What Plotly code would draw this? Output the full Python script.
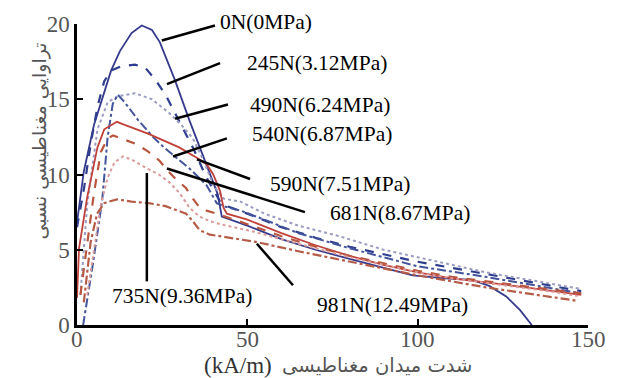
import plotly.graph_objects as go

# Relative magnetic permeability vs. magnetic field strength for eight loads
field_0N = [0, 2, 5, 7.6, 10, 12.6, 16, 19, 22, 24.3, 28.7, 33, 37.5, 41.3, 42.5, 50, 60, 70, 80, 90, 98.5, 108, 116, 121, 126, 130, 133.5]
perm_0N = [6.8, 10.2, 13.3, 15.2, 16.9, 18.2, 19.4, 19.9, 19.6, 18.8, 16.3, 13.6, 10.9, 8.7, 7.2, 6.6, 5.7, 5.0, 4.4, 3.8, 3.3, 3.1, 3.0, 2.6, 1.9, 1.0, 0.0]

field_245N = [0, 2, 4, 6, 8, 10, 13, 17, 20, 23, 26, 30, 34, 38, 42, 44, 50, 60, 70, 80, 90, 100, 110, 120, 130, 140, 148]
perm_245N = [6.5, 9.0, 12.0, 14.5, 16.2, 16.9, 17.2, 17.3, 17.1, 16.3, 15.3, 13.6, 11.8, 9.8, 8.2, 7.9, 7.4, 6.5, 5.8, 5.2, 4.7, 4.2, 3.8, 3.4, 3.0, 2.6, 2.25]

field_490N = [1, 3, 6, 9, 12, 17, 22, 27, 31, 34, 37, 40, 43, 48, 55, 65, 77, 90, 100, 110, 120, 130, 140, 148]
perm_490N = [2.0, 8.0, 13.0, 14.8, 15.2, 15.4, 15.0, 14.1, 13.2, 12.4, 11.0, 9.3, 8.4, 8.2, 7.4, 6.6, 5.9, 5.0, 4.5, 4.0, 3.5, 3.1, 2.7, 2.4]

field_540N = [1.8, 4.7, 7.4, 9, 10.5, 12, 14, 18, 22.3, 25.5, 28.7, 33, 38, 41, 43, 48, 55, 65, 80, 100, 120, 135, 148]
perm_540N = [0.0, 4.1, 8.3, 12.5, 14.7, 15.3, 14.8, 13.6, 12.5, 11.8, 11.2, 10.4, 9.3, 8.1, 7.9, 7.6, 7.0, 6.1, 5.1, 3.9, 3.2, 2.6, 2.1]

field_590N = [0, 0.6, 3, 6, 8, 10, 11.7, 14, 17.6, 21, 25, 30, 36, 38, 40, 42, 43, 44, 50, 60, 70, 80, 90, 100, 110, 118, 125, 135, 148]
perm_590N = [1.8, 5.1, 8.5, 11.8, 13.0, 13.3, 13.5, 13.3, 13.0, 12.7, 12.3, 11.8, 11.0, 10.7, 10.0, 8.9, 7.8, 7.4, 7.0, 6.1, 5.3, 4.6, 4.0, 3.5, 3.1, 2.9, 2.7, 2.4, 2.0]

field_681N = [1, 3, 5, 7, 9, 10.6, 14, 17.6, 21, 24.3, 26.4, 29, 32, 34, 36, 38, 41, 45, 50, 60, 70, 80, 90, 100, 110, 120, 130, 140, 148]
perm_681N = [2.0, 5.5, 8.8, 11.5, 12.4, 12.6, 12.3, 12.0, 11.5, 10.9, 10.3, 9.7, 9.1, 8.4, 7.8, 7.6, 7.4, 7.1, 6.7, 5.9, 5.2, 4.6, 4.1, 3.6, 3.2, 2.9, 2.6, 2.3, 2.1]

field_735N = [3, 5, 7, 9, 11, 13.5, 16, 20.5, 24, 27, 30, 33, 36, 39, 42, 46, 52, 60, 70, 80, 90, 100, 110, 120, 130, 140, 148]
perm_735N = [2.0, 5.0, 8.0, 9.8, 10.8, 11.2, 11.0, 10.4, 10.0, 9.5, 8.8, 7.8, 7.2, 6.9, 6.7, 6.5, 6.2, 5.7, 5.1, 4.5, 4.0, 3.5, 3.1, 2.8, 2.5, 2.2, 1.9]

field_981N = [2, 4, 5.9, 8, 11.7, 16, 21, 26, 32, 34, 36, 39, 42, 47, 53, 65, 80, 100, 120, 135, 147]
perm_981N = [1.5, 5.5, 7.4, 8.1, 8.35, 8.2, 8.1, 7.9, 7.4, 6.9, 6.3, 6.0, 5.9, 5.7, 5.5, 4.9, 4.2, 3.3, 2.5, 2.0, 1.6]

load_labels = ["0N(0MPa)", "245N(3.12MPa)", "490N(6.24MPa)", "540N(6.87MPa)",
               "590N(7.51MPa)", "681N(8.67MPa)", "735N(9.36MPa)", "981N(12.49MPa)"]

x_ticks = [0, 50, 100, 150]
y_ticks = [0, 5, 10, 15, 20]
x_title_unit = "(kA/m)"
x_title_fa = "شدت میدان مغناطیسی"
y_title_fa = "تراوایی مغناطیسی نسبی"

SERIF = "Times New Roman, Liberation Serif, serif"
ARABIC = "DejaVu Sans, Noto Sans, sans-serif"
TICK_GRAY = "#555555"

series = [
    (field_0N, perm_0N, "#363a8c", "solid", 1.8),
    (field_245N, perm_245N, "#2f3d8e", "dash", 2.2),
    (field_490N, perm_490N, "#9a9cc0", "dot", 2.0),
    (field_540N, perm_540N, "#43549a", "dashdot", 2.0),
    (field_590N, perm_590N, "#c0413a", "solid", 1.8),
    (field_681N, perm_681N, "#b8563f", "dash", 2.2),
    (field_735N, perm_735N, "#d99a9a", "dot", 2.0),
    (field_981N, perm_981N, "#b55c48", "dashdot", 2.2),
]

fig = go.Figure()
for (xs, ys, color, dash, width), name in zip(series, load_labels):
    fig.add_trace(go.Scatter(x=xs, y=ys, mode="lines", name=name,
                             line=dict(color=color, dash=dash, width=width)))

# Callout labels: text anchor (x, y, pixel shift) and leader line (curve -> label)
callouts = [
    (load_labels[0], 41.4, 20.0, 2, (24.9, 18.9), (40.5, 19.9)),
    (load_labels[1], 49.3, 17.4, 0, (26.4, 16.0), (42.0, 17.4)),
    (load_labels[2], 50.2, 14.65, 0, (28.8, 13.7), (44.3, 14.65)),
    (load_labels[3], 50.8, 12.7, 0, (28.2, 11.2), (44.0, 12.4)),
    (load_labels[4], 56.1, 9.4, 0, (35.2, 11.0), (50.8, 9.7)),
    (load_labels[5], 73.7, 7.45, 0, (26.4, 10.4), (66.9, 7.5)),
    (load_labels[6], 9.7, 1.9, 0, (20.5, 10.1), (20.5, 2.9)),
    (load_labels[7], 69.9, 1.35, 0, (52.8, 5.4), (63.4, 2.64)),
]
for text, tx, ty, shift, (x0, y0), (x1, y1) in callouts:
    fig.add_shape(type="line", x0=x0, y0=y0, x1=x1, y1=y1, xref="x", yref="y",
                  line=dict(color="black", width=2.5))
    fig.add_annotation(x=tx, y=ty, xref="x", yref="y", yshift=shift, text=text,
                       showarrow=False, xanchor="left", yanchor="middle",
                       font=dict(family=SERIF, size=21.5, color="black"))

# x tick labels sit tight under the axis line
for v in x_ticks:
    fig.add_annotation(x=v, y=0, xref="x", yref="paper", yshift=-14, text=str(v),
                       showarrow=False, xanchor="center", yanchor="middle",
                       font=dict(family=SERIF, size=23, color=TICK_GRAY))

# Axis titles
fig.add_annotation(x=-0.074, y=0.61, xref="paper", yref="paper", text=y_title_fa,
                   showarrow=False, textangle=-90, xanchor="center", yanchor="middle",
                   font=dict(family=ARABIC, size=19, color=TICK_GRAY))
fig.add_annotation(x=0.385, y=-0.135, xref="paper", yref="paper", text=x_title_unit,
                   showarrow=False, xanchor="right", yanchor="middle",
                   font=dict(family=SERIF, size=23, color="#333333"))
fig.add_annotation(x=0.397, y=-0.135, xref="paper", yref="paper", text=x_title_fa,
                   showarrow=False, xanchor="left", yanchor="middle",
                   font=dict(family=ARABIC, size=19.5, color=TICK_GRAY))

axis_common = dict(showgrid=False, zeroline=False, showline=True, linecolor="black",
                   linewidth=2.5, ticks="inside", ticklen=6, tickwidth=2, tickcolor="black",
                   tickfont=dict(family=SERIF, size=23, color=TICK_GRAY))
fig.update_xaxes(range=[0, 150], tickvals=x_ticks, showticklabels=False, **axis_common)
fig.update_yaxes(range=[0, 20], tickvals=y_ticks, **axis_common)

fig.update_layout(width=619, height=378, showlegend=False,
                  margin=dict(l=77, r=31, t=22, b=53),
                  paper_bgcolor="white", plot_bgcolor="white")

fig.write_html("out.html")
